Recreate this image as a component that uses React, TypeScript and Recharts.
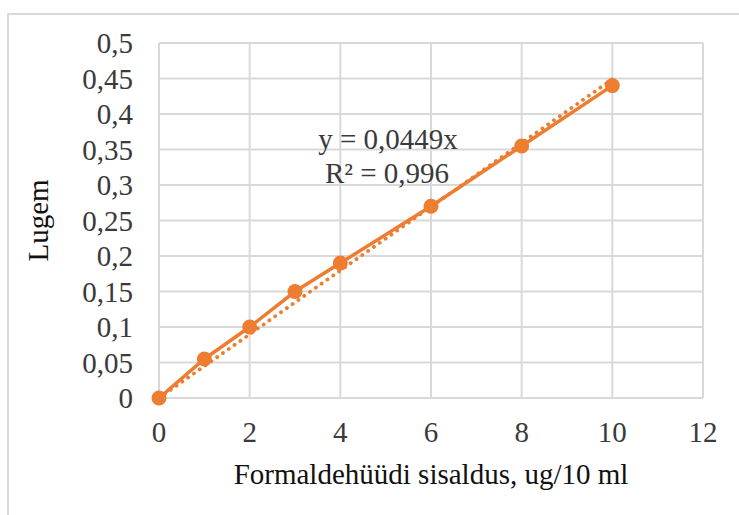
import React from 'react';
import { ComposedChart, Line, XAxis, YAxis, CartesianGrid, Customized } from 'recharts';

const xValues = [0, 1, 2, 3, 4, 6, 8, 10];
const yValues = [0, 0.055, 0.1, 0.15, 0.19, 0.27, 0.355, 0.44];
const trendX = [0, 10];
const trendY = [0, 0.449];
const xTicks = [0, 2, 4, 6, 8, 10, 12];
const yTicks = [0, 0.05, 0.1, 0.15, 0.2, 0.25, 0.3, 0.35, 0.4, 0.45, 0.5];
const equationLines = ['y = 0,0449x', 'R² = 0,996'];
const xTitle = 'Formaldehüüdi sisaldus, ug/10 ml';
const yTitle = 'Lugem';

const measured = xValues.map((x, i) => ({ x, y: yValues[i] }));
const trend = trendX.map((x, i) => ({ x, t: trendY[i] }));

const ORANGE = '#ED7D31';
const GRID = '#d9d9d9';
const TEXT = '#3a3a3a';
const TITLE = '#111111';
const FONT = '"Liberation Serif", "Times New Roman", serif';
const FS = 29;

const fmt = (v: number) => String(Math.round(v * 100) / 100).replace('.', ',');

const Equation = () => (
  <g>
    <text x={388} y={149} textAnchor="middle" fontFamily={FONT} fontSize={FS} fill={TEXT}>
      {equationLines[0]}
    </text>
    <text x={387} y={183} textAnchor="middle" fontFamily={FONT} fontSize={FS} fill={TEXT}>
      {equationLines[1]}
    </text>
  </g>
);

const XTitle = (props: any) => {
  const vb = props.viewBox || {};
  return (
    <text x={vb.x + vb.width / 2} y={484} textAnchor="middle" fontFamily={FONT} fontSize={FS} fill={TITLE}>
      {xTitle}
    </text>
  );
};

const YTitle = (props: any) => {
  const vb = props.viewBox || {};
  const cy = vb.y + vb.height / 2;
  return (
    <text x={48} y={cy} transform={`rotate(-90, 48, ${cy})`} textAnchor="middle" fontFamily={FONT} fontSize={FS} fill={TITLE}>
      {yTitle}
    </text>
  );
};

export default function App() {
  return (
    <div style={{ position: 'absolute', left: 0, top: 0, width: 739, height: 515, background: '#fff' }}>
      <div style={{ position: 'absolute', left: 7, top: 13, width: 760, height: 560, border: `2px solid ${GRID}`, boxSizing: 'border-box' }} />
      <div style={{ position: 'absolute', left: 0, top: 0 }}>
        <ComposedChart width={739} height={515} margin={{ top: 43, right: 36, bottom: 37, left: 0 }}>
          <CartesianGrid stroke={GRID} strokeWidth={2} vertical={true} horizontal={true} />
          <XAxis
            type="number"
            dataKey="x"
            domain={[0, 12]}
            ticks={xTicks}
            interval={0}
            height={80}
            axisLine={{ stroke: GRID, strokeWidth: 2 }}
            tickLine={false}
            tickSize={0}
            tickMargin={23}
            tick={{ fontFamily: FONT, fontSize: FS, fill: TEXT }}
            label={<XTitle />}
          />
          <YAxis
            type="number"
            domain={[0, 0.5]}
            ticks={yTicks}
            interval={0}
            width={159}
            axisLine={false}
            tickLine={false}
            tickSize={0}
            tickMargin={26}
            tickFormatter={fmt}
            tick={{ fontFamily: FONT, fontSize: FS, fill: TEXT }}
            label={<YTitle />}
          />
          <Line
            data={trend}
            dataKey="t"
            type="linear"
            stroke={ORANGE}
            strokeWidth={3.8}
            strokeDasharray="0.1 7"
            strokeLinecap="round"
            dot={false}
            isAnimationActive={false}
          />
          <Line
            data={measured}
            dataKey="y"
            type="linear"
            stroke={ORANGE}
            strokeWidth={3.5}
            dot={{ r: 7.5, fill: ORANGE, stroke: ORANGE, strokeWidth: 0 }}
            isAnimationActive={false}
          />
          <Customized component={Equation} />
        </ComposedChart>
      </div>
    </div>
  );
}
